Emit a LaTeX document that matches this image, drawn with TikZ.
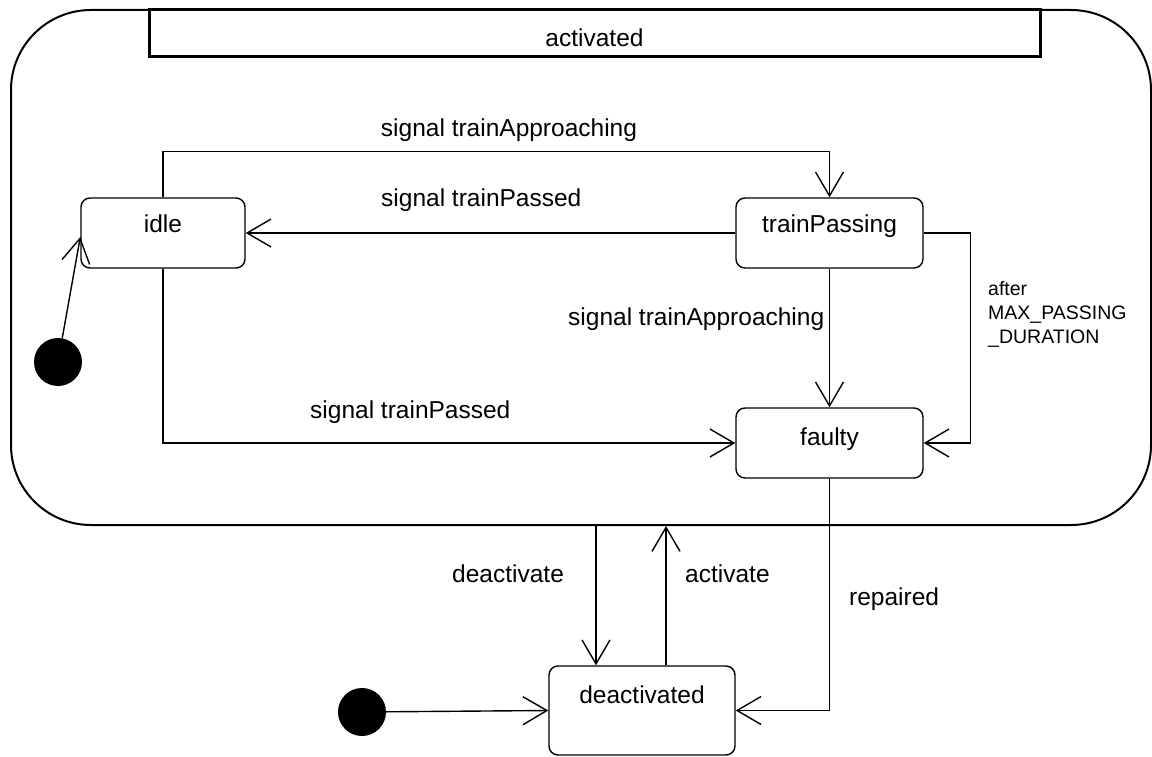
\documentclass[tikz,border=0pt]{standalone}
\usepackage{fontspec}
\setmainfont{Liberation Sans}
\usetikzlibrary{arrows.meta,calc}

\tikzset{
  lbl/.style={font=\fontsize{24.5}{29}\selectfont, inner sep=0pt},
  smalllbl/.style={font=\fontsize{19.5}{24}\selectfont, inner sep=0pt, align=left},
  statebox/.style={draw, line width=1.4pt, rounded corners=9pt, inner sep=0pt,
    font=\fontsize{24.5}{29}\selectfont},
  superstate/.style={draw, line width=2pt, rounded corners=80pt, inner sep=0pt,
    minimum width=1140pt, minimum height=515pt},
  namebar/.style={draw, line width=3pt, inner sep=0pt, minimum width=891pt,
    minimum height=47pt, font=\fontsize{24.5}{29}\selectfont},
  initdot/.style={circle, fill=black, inner sep=0pt, minimum size=48pt},
  tr/.style={draw, line width=1.4pt,
    -{Straight Barb[length=24pt, width=28pt]}},
}

\begin{document}
\begin{tikzpicture}[x=1pt, y=-1pt]
  \useasboundingbox (0,0) rectangle (1152,757);

  % composite state "activated"
  \node[superstate] (outer) at (581,267.5) {};
  \node[namebar, text height=27pt, text depth=0pt] (name) at (594.5,33.5) {activated};

  % substates
  \node[statebox, minimum width=164pt, minimum height=70pt,
        text height=17pt, text depth=17pt] (idle) at (163,233) {idle};
  \node[statebox, minimum width=187pt, minimum height=70pt,
        text height=17pt, text depth=17pt] (tp) at (829.5,233) {trainPassing};
  \node[statebox, minimum width=187pt, minimum height=70pt,
        text height=19pt, text depth=15pt] (faulty) at (829.5,443) {faulty};
  \node[statebox, minimum width=186pt, minimum height=89pt,
        text height=12pt, text depth=27pt] (deact) at (642,710.5) {deactivated};

  % initial pseudostates
  \node[initdot] (init1) at (58,362) {};
  \node[initdot] (init2) at (362,712) {};

  % x positions of the transitions crossing the composite border
  \coordinate (dx) at (596,0);
  \coordinate (ax) at (666,0);

  % transitions inside "activated"
  \draw[tr] (init1) -- ($(idle.west)+(0,4)$);
  \draw[tr] (idle.north) -- ++(0,-46) -| (tp.north);
  \draw[tr] (tp.west) -- (idle.east);
  \draw[tr] (tp.south) -- (faulty.north);
  \draw[tr] (tp.east) -- ++(47,0) |- (faulty.east);
  \draw[tr] (idle.south) |- (faulty.west);

  % transitions outside
  \draw[tr] (init2) -- (deact.west);
  \draw[tr] (faulty.south) |- (deact.east);
  \draw[tr] (dx |- outer.south) -- (dx |- deact.north);
  \draw[tr] (ax |- deact.north) -- (ax |- outer.south);

  % transition labels
  \node[lbl, anchor=base] (l1) at (509,137) {signal trainApproaching};
  \node[lbl, anchor=base west] (l2) at (381,207) {signal trainPassed};
  \node[lbl, anchor=base west] (l3) at (568,325) {signal trainApproaching};
  \node[lbl, anchor=base west] (l4) at (310,418) {signal trainPassed};
  \node[smalllbl, anchor=base west] (l5) at (988,343)
    {after\\[0pt]MAX\_PASSING\\[0pt]\_DURATION};
  \node[lbl, anchor=base west] (l6) at (452,582) {deactivate};
  \node[lbl, anchor=base west] (l7) at (685,582) {activate};
  \node[lbl, anchor=base west] (l8) at (849,605) {repaired};
\end{tikzpicture}
\end{document}
